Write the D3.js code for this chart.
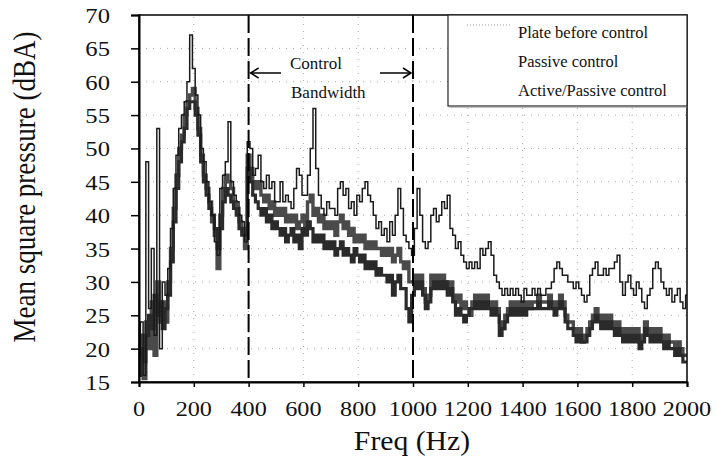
<!DOCTYPE html>
<html>
<head>
<meta charset="utf-8">
<script src="https://cdn.jsdelivr.net/npm/d3@7/dist/d3.min.js"></script>
<style>
	body { margin: 0; background: #fff; }
	svg text { font-family: "Liberation Serif", "Times New Roman", serif; fill: #111; }
</style>
</head>
<body>
<div id="chart"></div>
<script>
// spectra, one value every 10 Hz from 0 to 2000 Hz
const freq = d3.range(0, 2001, 10);

const plateBefore = [
	19, 24, 16, 48, 26, 35, 22, 53, 20, 30,
	28, 32, 38, 44, 49, 53, 55, 57, 60, 67,
	62, 58, 55, 50, 48, 45, 42, 40, 36, 34,
	44, 46, 48, 54, 45, 43, 42, 40, 39, 36,
	51, 50, 46, 47, 49, 45, 44, 46, 44, 45,
	42, 42, 45, 42, 43, 42, 41, 44, 47, 46,
	43, 43, 46, 50, 56, 47, 43, 41, 40, 42,
	41, 41, 40, 44, 45, 43, 44, 41, 42, 40,
	43, 42, 44, 45, 43, 42, 40, 38, 39, 37,
	38, 36, 39, 37, 40, 44, 41, 37, 36, 35,
	34, 38, 44, 40, 36, 35, 36, 40, 41, 39,
	40, 42, 41, 43, 38, 37, 35, 36, 34, 33,
	32, 33, 32, 33, 32, 35, 34, 35, 36, 34,
	31, 30, 29, 28, 29, 28, 29, 28, 29, 28,
	27, 29, 28, 28, 29, 28, 29, 28, 28, 29,
	29, 30, 32, 33, 32, 31, 31, 30, 30, 29,
	30, 29, 28, 27, 28, 31, 32, 33, 31, 31,
	32, 31, 32, 32, 33, 34, 30, 28, 30, 31,
	29, 28, 30, 29, 27, 26, 28, 29, 32, 33,
	32, 30, 29, 28, 29, 27, 28, 29, 27, 26,
	28,
];

const passiveControl = [
	18, 22, 15.5, 24, 20, 27, 19, 30, 24, 27,
	24, 30, 35, 41, 46, 50, 52, 55, 57, 58,
	59, 56, 53, 49, 46, 44, 42, 39, 37, 32,
	40, 44, 46, 45, 44, 42, 41, 39, 38, 35,
	49, 47, 45, 44, 45, 43, 42, 43, 41, 42,
	40, 41, 40, 41, 39, 40, 39, 40, 38, 39,
	40, 38, 42, 43, 40, 41, 39, 40, 38, 39,
	38, 39, 37, 39, 40, 38, 39, 37, 38, 36,
	37, 36, 37, 35, 36, 35, 36, 35, 35, 34,
	35, 34, 35, 33, 34, 35, 33, 32, 33, 30,
	30, 31, 30, 31, 29, 27, 28, 31, 30, 31,
	30, 31, 30, 29, 30, 28, 27, 28, 26, 27,
	26, 25, 27, 28, 27, 28, 27, 28, 27, 26,
	27, 26, 24, 23, 25, 26, 27, 26, 27, 26,
	27, 26, 27, 26, 27, 27, 28, 27, 27, 27,
	28, 27, 26, 27, 28, 27, 25, 24, 24, 23,
	22, 23, 21, 22, 23, 24, 25, 26, 25, 24,
	25, 24, 25, 24, 23, 24, 23, 22, 23, 22,
	23, 22, 23, 21, 22, 24, 23, 22, 23, 22,
	23, 22, 21, 22, 21, 21, 20, 21, 20, 19,
	19,
];

const activePassive = [
	16, 20, 18, 22, 25, 23, 28, 25, 27, 23,
	26, 28, 33, 39, 44, 48, 51, 53, 56, 57,
	57, 55, 52, 48, 45, 43, 41, 40, 38, 35,
	38, 42, 44, 43, 42, 41, 40, 38, 37, 37,
	47, 45, 43, 42, 41, 40, 41, 39, 40, 38,
	39, 38, 37, 38, 36, 37, 38, 36, 37, 35,
	38, 37, 39, 38, 36, 37, 36, 37, 35, 36,
	35, 36, 34, 35, 36, 34, 35, 34, 33, 35,
	34, 33, 34, 32, 33, 32, 33, 31, 32, 31,
	31, 30, 31, 28, 30, 31, 29, 29, 26, 24,
	28, 30, 29, 30, 28, 26, 27, 29, 30, 29,
	30, 29, 30, 28, 29, 27, 25, 26, 25, 24,
	25, 26, 26, 27, 26, 27, 26, 27, 26, 25,
	26, 25, 22, 23, 24, 25, 26, 25, 26, 25,
	26, 25, 26, 26, 26, 26, 27, 26, 26, 26,
	27, 26, 25, 26, 27, 26, 24, 23, 23, 22,
	21, 22, 21, 21, 22, 23, 24, 25, 24, 23,
	24, 23, 24, 23, 22, 23, 22, 21, 22, 21,
	22, 21, 22, 20, 21, 23, 22, 21, 22, 21,
	22, 21, 20, 21, 20, 20, 19, 20, 19, 18,
	18,
];

const xTicks = [0, 200, 400, 600, 800, 1000, 1200, 1400, 1600, 1800, 2000];
const yTicks = [15, 20, 25, 30, 35, 40, 45, 50, 55, 60, 65, 70];
const bandEdges = [400, 1000];
const legendLabels = ["Plate before control", "Passive control", "Active/Passive control"];

const width = 724;
const height = 475;

const svg = d3
	.select("#chart")
	.append("svg")
	.attr("width", width)
	.attr("height", height);

const x = d3.scaleLinear().domain([0, 2000]).range([139, 687]);
const y = d3.scaleLinear().domain([15, 70]).range([382, 15]);

// faint dotted grid
svg
	.append("g")
	.selectAll("line")
	.data(yTicks.slice(1, -1))
	.join("line")
	.attr("x1", x(0))
	.attr("x2", x(2000))
	.attr("y1", d => y(d))
	.attr("y2", d => y(d))
	.attr("stroke", "#aaa")
	.attr("stroke-dasharray", "1,6");

svg
	.append("g")
	.selectAll("line")
	.data(xTicks.slice(1, -1))
	.join("line")
	.attr("x1", d => x(d))
	.attr("x2", d => x(d))
	.attr("y1", y(15))
	.attr("y2", y(70))
	.attr("stroke", "#aaa")
	.attr("stroke-dasharray", "1,6");

svg
	.append("clipPath")
	.attr("id", "plot")
	.append("rect")
	.attr("x", x(0))
	.attr("y", y(70))
	.attr("width", x(2000) - x(0))
	.attr("height", y(15) - y(70));

const line = d3
	.line()
	.x((d, i) => x(freq[i]))
	.y(d => y(d))
	.curve(d3.curveStep);

const series = [
	{ values: passiveControl, color: "#4a4a4a", w: 3.4 },
	{ values: activePassive, color: "#2a2a2a", w: 3.2 },
	{ values: plateBefore, color: "#1a1a1a", w: 1.5 },
];

svg
	.append("g")
	.attr("clip-path", "url(#plot)")
	.selectAll("path")
	.data(series)
	.join("path")
	.attr("d", d => line(d.values))
	.attr("fill", "none")
	.attr("stroke", d => d.color)
	.attr("stroke-width", d => d.w)
	.attr("stroke-linejoin", "miter");

// control band edges
svg
	.append("g")
	.selectAll("line")
	.data(bandEdges)
	.join("line")
	.attr("x1", d => x(d))
	.attr("x2", d => x(d))
	.attr("y1", y(70))
	.attr("y2", y(15))
	.attr("stroke", "#000")
	.attr("stroke-width", 2)
	.attr("stroke-dasharray", "18,5");

// frame
svg
	.append("rect")
	.attr("x", x(0))
	.attr("y", y(70))
	.attr("width", x(2000) - x(0))
	.attr("height", y(15) - y(70))
	.attr("fill", "none")
	.attr("stroke", "#111")
	.attr("stroke-width", 1.6);

const yAxis = svg
	.append("g")
	.attr("transform", `translate(${x(0)},0)`)
	.call(d3.axisLeft(y).tickValues(yTicks).tickSize(8).tickFormat(""));
const xAxis = svg
	.append("g")
	.attr("transform", `translate(0,${y(15)})`)
	.call(d3.axisBottom(x).tickValues(xTicks).tickSize(5).tickFormat(""));
[yAxis, xAxis].forEach(g => {
	g.select(".domain").attr("stroke", "#000").attr("stroke-width", 2);
	g.selectAll(".tick line").attr("stroke", "#000").attr("stroke-width", 1.5);
});

// tick labels
svg
	.append("g")
	.selectAll("text")
	.data(yTicks)
	.join("text")
	.attr("transform", d => `translate(110,${y(d) + 8}) scale(1.12,1)`)
	.attr("text-anchor", "end")
	.style("font-size", "22px")
	.text(d => d);

svg
	.append("g")
	.selectAll("text")
	.data(xTicks)
	.join("text")
	.attr("transform", d => `translate(${x(d)},416) scale(1.1,1)`)
	.attr("text-anchor", "middle")
	.style("font-size", "22px")
	.text(d => d);

svg
	.append("text")
	.attr("transform", "translate(35,187) rotate(-90) scale(1,1.15)")
	.attr("text-anchor", "middle")
	.style("font-size", "27px")
	.text("Mean square pressure (dBA)");

svg
	.append("text")
	.attr("transform", "translate(412,450) scale(1.1,1)")
	.attr("text-anchor", "middle")
	.style("font-size", "27px")
	.text("Freq (Hz)");

// band annotation
svg.append("text").attr("x", 290).attr("y", 69).style("font-size", "17px").text("Control");
svg.append("text").attr("x", 291).attr("y", 98).style("font-size", "17px").text("Bandwidth");

const arrows = svg.append("g").attr("stroke", "#000").attr("stroke-width", 1.5).attr("fill", "none");
arrows.append("line").attr("x1", 281).attr("x2", x(400) + 2).attr("y1", 73).attr("y2", 73);
arrows.append("polyline").attr("points", `${x(400) + 10},68 ${x(400) + 2},73 ${x(400) + 10},78`);
arrows.append("line").attr("x1", 380).attr("x2", x(1000) - 2).attr("y1", 73).attr("y2", 73);
arrows.append("polyline").attr("points", `${x(1000) - 10},68 ${x(1000) - 2},73 ${x(1000) - 10},78`);

// legend
const legend = svg.append("g");
legend
	.append("rect")
	.attr("x", 448)
	.attr("y", 15)
	.attr("width", x(2000) - 448)
	.attr("height", 91)
	.attr("fill", "#fff")
	.attr("stroke", "#222")
	.attr("stroke-width", 1.2);
legend
	.append("line")
	.attr("x1", 449)
	.attr("x2", x(2000))
	.attr("y1", 107)
	.attr("y2", 107)
	.attr("stroke", "#888");
legend
	.append("line")
	.attr("x1", 467)
	.attr("x2", 510)
	.attr("y1", 25)
	.attr("y2", 25)
	.attr("stroke", "#999")
	.attr("stroke-dasharray", "1,2");
legend
	.selectAll("text")
	.data(legendLabels)
	.join("text")
	.attr("x", 518)
	.attr("y", (d, i) => 38 + i * 29)
	.style("font-size", "16.5px")
	.text(d => d);
</script>
</body>
</html>
